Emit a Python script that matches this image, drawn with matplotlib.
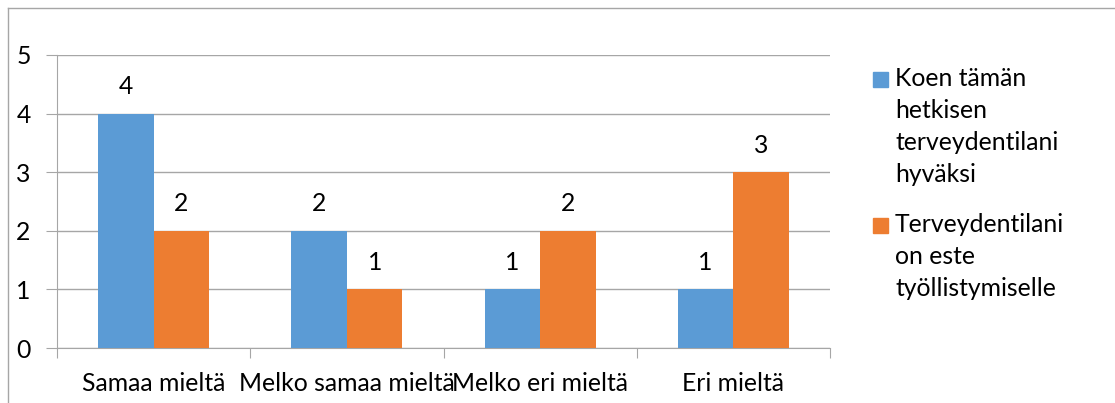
import matplotlib.pyplot as plt
import matplotlib.patches as mpatches
from matplotlib.lines import Line2D
import numpy as np

# Data
categories = ['Samaa mieltä', 'Melko samaa mieltä', 'Melko eri mieltä', 'Eri mieltä']
series_names = ['Koen tämän\nhetkisen\nterveydentilani\nhyväksi',
                'Terveydentilani\non este\ntyöllistymiselle']
koen_hyvaksi = [4, 2, 1, 1]
este_tyollistymiselle = [2, 1, 2, 3]
colors = ['#5B9BD5', '#ED7D31']

plt.rcParams['font.family'] = ['Lato', 'DejaVu Sans']
FS = 17.8

W, H = 1115, 403
fig = plt.figure(figsize=(W / 100, H / 100), dpi=100)
ax = fig.add_axes([57 / W, (H - 348) / H, (830 - 57) / W, (348 - 55) / H])

x = np.arange(len(categories))
bw = 0.2875
for vals, off, col in [(koen_hyvaksi, -bw / 2, colors[0]), (este_tyollistymiselle, bw / 2, colors[1])]:
    bars = ax.bar(x + off, vals, width=bw, color=col, zorder=3)
    for b, v in zip(bars, vals):
        ax.annotate(str(v), (b.get_x() + b.get_width() / 2, v), xytext=(0, 27),
                    textcoords='offset pixels',
                    ha='center', va='center', fontsize=FS, color='#000000')

ax.set_xlim(-0.5, len(categories) - 0.5)
ax.set_ylim(0, 5)
ax.set_yticks(range(0, 6))
ax.yaxis.grid(True, color='#A6A6A6', linewidth=1, zorder=0)
ax.set_axisbelow(True)

# category boundary ticks
ax.set_xticks(np.arange(-0.5, len(categories), 1.0))
ax.set_xticklabels([])
ax.tick_params(axis='x', length=7, color='#A6A6A6', direction='out')
ax.tick_params(axis='y', length=8, color='#A6A6A6', labelsize=FS, pad=11)
for i, c in enumerate(categories):
    ax.text(i, -0.12, c, transform=ax.get_xaxis_transform(), ha='center', va='center', fontsize=FS)

for s in ['top', 'right']:
    ax.spines[s].set_visible(False)
ax.spines['left'].set_color('#A6A6A6')
ax.spines['bottom'].set_color('#A6A6A6')

# chart border (left and top only visible)
fig.add_artist(Line2D([8 / W, 8 / W], [0, (H - 8) / H], color='#A6A6A6', lw=1, transform=fig.transFigure))
fig.add_artist(Line2D([8 / W, 1], [(H - 8) / H, (H - 8) / H], color='#A6A6A6', lw=1, transform=fig.transFigure))

# legend drawn manually, Excel style
legend_tops = [79, 225]
for name, col, ty in zip(series_names, colors, legend_tops):
    fig.add_artist(mpatches.Rectangle((873 / W, (H - ty - 7.5) / H), 15 / W, 15 / H,
                                      color=col, transform=fig.transFigure))
    for k, line in enumerate(name.split('\n')):
        fig.text(895 / W, (H - ty - k * 32) / H, line, ha='left', va='center', fontsize=FS)

fig.savefig('out.png', dpi=100)
